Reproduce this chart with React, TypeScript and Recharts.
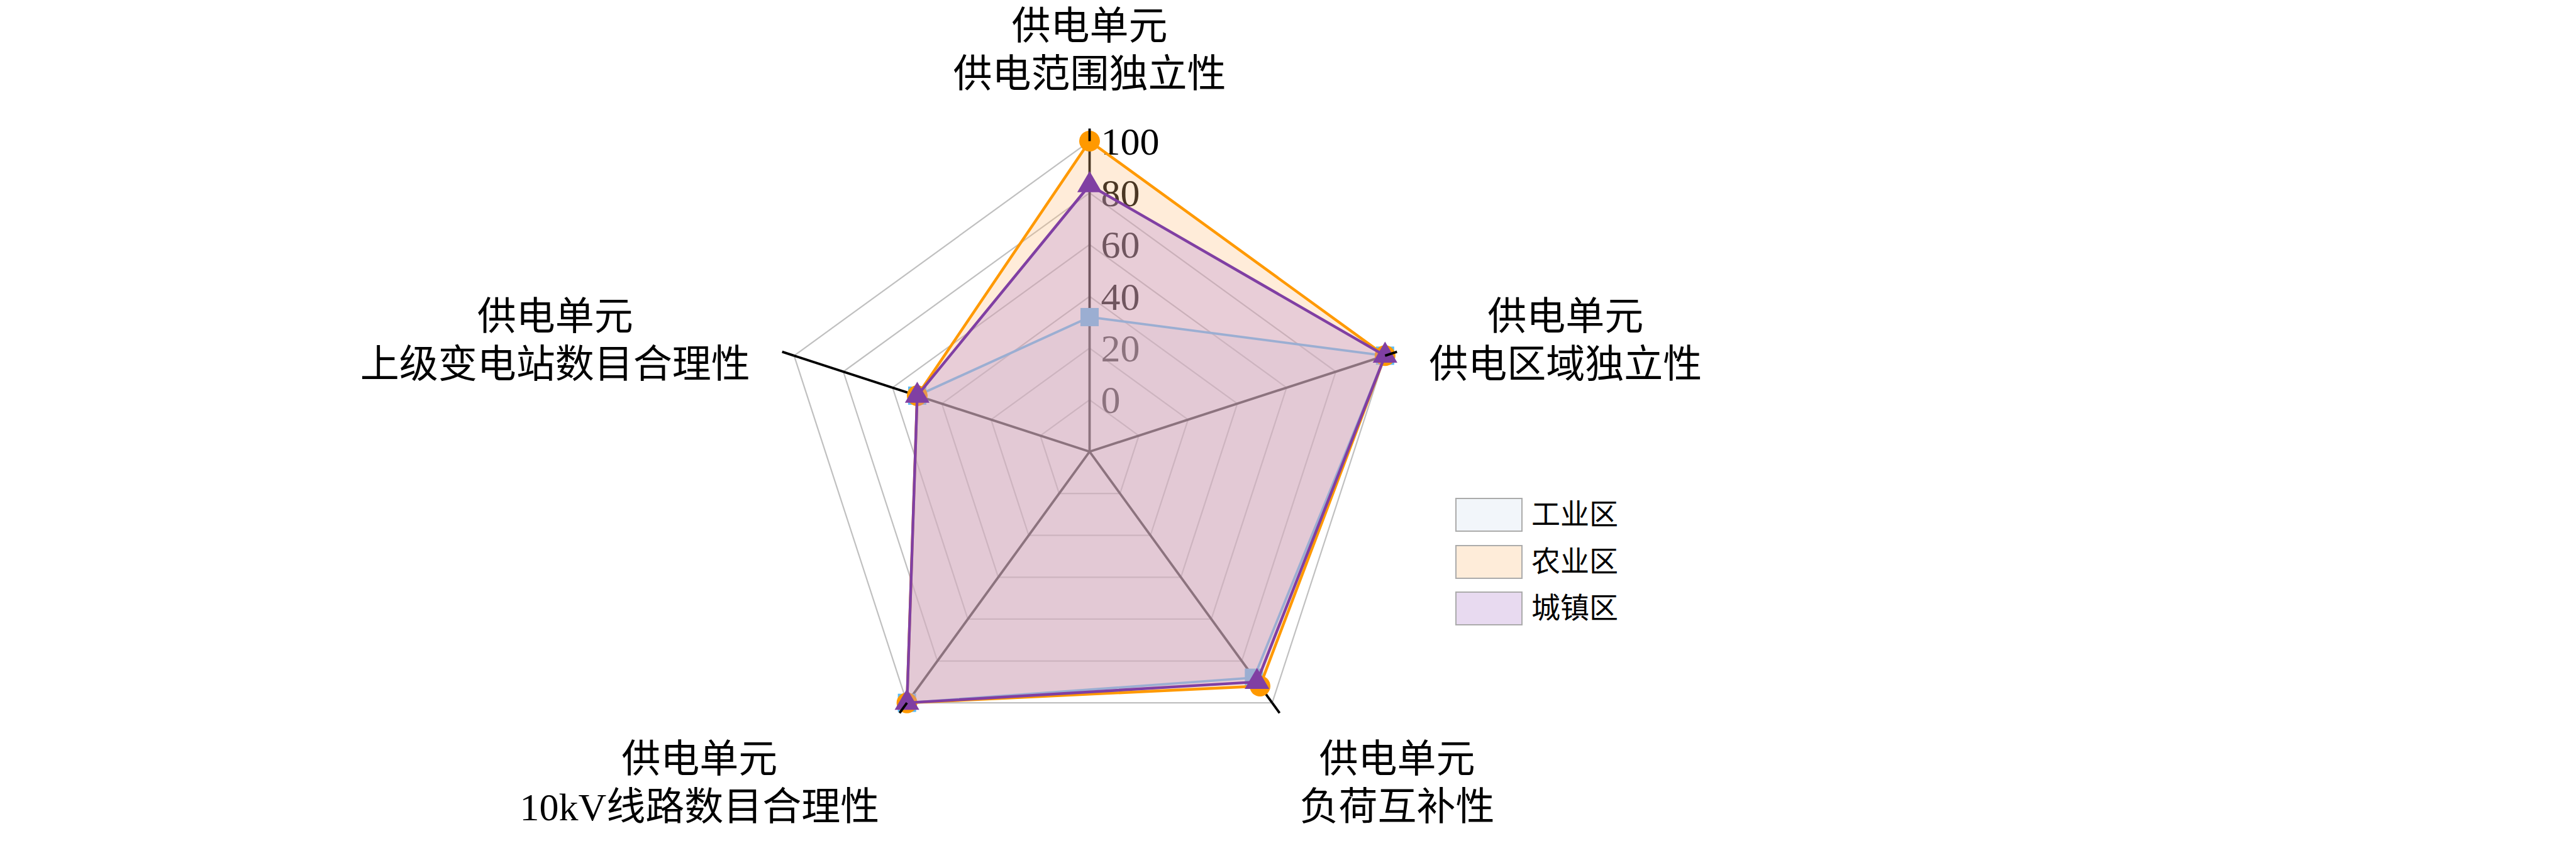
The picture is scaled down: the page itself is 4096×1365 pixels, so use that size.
import React from "react";
import {
  RadarChart,
  Radar,
  PolarGrid,
  PolarAngleAxis,
  PolarRadiusAxis,
  Legend,
} from "recharts";

// ── Data ──────────────────────────────────────────────────────────────────────

const CATEGORY_PREFIX = "供电单元";
const CATEGORIES = [
  "供电范围独立性",
  "供电区域独立性",
  "负荷互补性",
  "10kV线路数目合理性",
  "上级变电站数目合理性",
];

const SERIES_NAMES = ["工业区", "农业区", "城镇区"];
const INDUSTRIAL = [32, 100, 88, 100, 50];
const AGRICULTURAL = [100, 100, 92, 100, 50];
const URBAN = [83, 100, 90, 100, 50];

const RADIUS_TICKS = [-20, 0, 20, 40, 60, 80, 100];
const RADIUS_DOMAIN = [-20, 100];

const data = CATEGORIES.map((subject, i) => ({
  subject,
  工业区: INDUSTRIAL[i],
  农业区: AGRICULTURAL[i],
  城镇区: URBAN[i],
}));

// ── Styling ───────────────────────────────────────────────────────────────────

const FONT = "'Times New Roman', 'Liberation Serif', 'Noto Sans CJK SC', serif";
const LEGEND_FILLS = ["#f2f6fa", "#feecd9", "#e8daf0"];

const W = 4096;
const H = 1365;
const CX = 1732.5;
const CY = 718.5;
const R = 494;

// label centre offsets from the end of each angle tick (top, right, bottom-right, bottom-left, left)
const LABEL_LAYOUT = [
  { dx: 0, dy1: -163, dy2: -87 },
  { dx: 268, dy1: -56, dy2: 20 },
  { dx: 187, dy1: 74, dy2: 150 },
  { dx: -318, dy1: 74, dy2: 150 },
  { dx: -361, dy1: -56, dy2: 20 },
];

function AngleTick(props: any) {
  const { x, y, index, payload } = props;
  const l = LABEL_LAYOUT[index] ?? { dx: 0, dy1: 0, dy2: 0 };
  return (
    <g>
      <text x={x + l.dx} y={y + l.dy1} textAnchor="middle" dominantBaseline="central"
        fontSize={62} fontFamily={FONT} fill="#000">
        {CATEGORY_PREFIX}
      </text>
      <text x={x + l.dx} y={y + l.dy2} textAnchor="middle" dominantBaseline="central"
        fontSize={62} fontFamily={FONT} fill="#000">
        {payload.value}
      </text>
    </g>
  );
}

function RadiusTick(props: any) {
  const { x, y, payload } = props;
  if (payload.value < 0) return <g />;
  return (
    <text x={x + 18} y={y} textAnchor="start" dominantBaseline="central"
      fontSize={62} fontFamily={FONT} fill="#000">
      {payload.value}
    </text>
  );
}

// ── Series shapes (polygon + markers in one layer, so later fills tint earlier markers) ──

type Marker = "square" | "circle" | "triangle";

function marker(kind: Marker, x: number, y: number, color: string, key: number) {
  if (kind === "square") {
    return <rect key={key} x={x - 14.5} y={y - 14.5} width={29} height={29} fill={color} />;
  }
  if (kind === "circle") {
    return <circle key={key} cx={x} cy={y} r={16.5} fill={color} />;
  }
  return (
    <polygon
      key={key}
      points={`${x},${y - 22.3} ${x - 19.6},${y + 11.2} ${x + 19.6},${y + 11.2}`}
      fill={color}
    />
  );
}

function seriesShape(kind: Marker, stroke: string, fill: string, opacity: number, width: number) {
  return (props: any) => {
    const pts: any[] = props.points ?? [];
    const poly = pts.map((p) => `${p.x},${p.y}`).join(" ");
    return (
      <g>
        <polygon points={poly} fill={fill} fillOpacity={opacity} stroke={stroke}
          strokeWidth={width} strokeLinejoin="round" />
        {pts.map((p, i) => marker(kind, p.x, p.y, stroke, i))}
      </g>
    );
  };
}

function LegendBox() {
  return (
    <div style={{ display: "flex", flexDirection: "column" }}>
      {SERIES_NAMES.map((name, i) => (
        <div key={name} style={{ display: "flex", alignItems: "center", height: 54, marginBottom: 20.5 }}>
          <div
            style={{
              width: 107,
              height: 54,
              boxSizing: "border-box",
              background: LEGEND_FILLS[i],
              border: "2px solid #ababab",
            }}
          />
          <span style={{ marginLeft: 14, fontSize: 46, fontFamily: FONT, color: "#000", lineHeight: 1 }}>
            {name}
          </span>
        </div>
      ))}
    </div>
  );
}

// ── Component ─────────────────────────────────────────────────────────────────

export default function App() {
  return (
    <div style={{ width: W, height: H, background: "#fff", position: "relative" }}>
      <style>{"body{margin:0;background:#fff}"}</style>
      <RadarChart width={W} height={H} data={data} cx={CX} cy={CY} outerRadius={R}
        margin={{ top: 0, right: 0, bottom: 0, left: 0 }}>
        <PolarGrid gridType="polygon" radialLines={false} stroke="#c0c0c0" strokeWidth={2.2} />
        <PolarGrid gridType="polygon" polarRadius={[]} stroke="#000" strokeWidth={3.8} />
        <PolarRadiusAxis
          angle={90}
          type="number"
          domain={RADIUS_DOMAIN}
          ticks={RADIUS_TICKS}
          tickCount={7}
          axisLine={false}
          tickLine={false}
          tick={<RadiusTick />}
          zIndex={50}
        />
        <PolarAngleAxis
          dataKey="subject"
          axisLine={false}
          tickLine={{ stroke: "#000", strokeWidth: 3.8 }}
          tickSize={20}
          tick={<AngleTick />}
        />
        <Radar name="工业区" dataKey="工业区" stroke="#5BBCF6" fill="#D6DEF2" dot={false}
          shape={seriesShape("square", "#5BBCF6", "#D6DEF2", 0.28, 3.8)} isAnimationActive={false} />
        <Radar name="农业区" dataKey="农业区" stroke="#FF9900" fill="#FFBE7C" dot={false}
          shape={seriesShape("circle", "#FF9900", "#FFBE7C", 0.29, 4.4)} isAnimationActive={false} />
        <Radar name="城镇区" dataKey="城镇区" stroke="#803FA3" fill="#BB92D3" dot={false}
          shape={seriesShape("triangle", "#803FA3", "#BB92D3", 0.34, 4.4)} isAnimationActive={false} />
        <Legend
          content={<LegendBox />}
          wrapperStyle={{ position: "absolute", left: 2314, top: 792, width: 400, height: 220 }}
        />
      </RadarChart>
    </div>
  );
}
